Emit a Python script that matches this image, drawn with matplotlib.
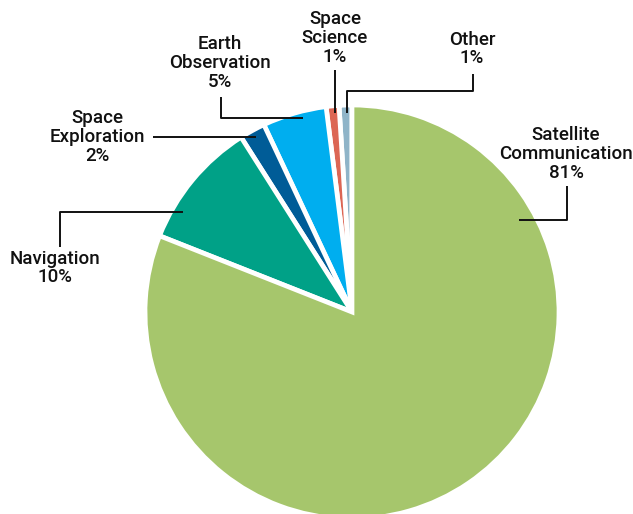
import matplotlib.pyplot as plt

# market share by segment, counter-clockwise from 12 o'clock
segments = ["Other", "Space\nScience", "Earth\nObservation", "Space\nExploration",
            "Navigation", "Satellite\nCommunication"]
shares = [1, 1, 5, 2, 10, 81]
colors = ["#8FB4C8", "#DC6654", "#00AEEF", "#005C97", "#00A187", "#A6C66C"]

W, H = 633, 514


def py(y):
    # convert a top-down pixel row into data y
    return H - y


fig = plt.figure(figsize=(W / 100, H / 100), dpi=100)
ax = fig.add_axes([0, 0, 1, 1])

ax.pie(
    shares,
    colors=colors,
    startangle=90,
    counterclock=True,
    center=(352, py(312)),
    radius=207,
    wedgeprops=dict(edgecolor="white", linewidth=3.4),
)

ax.set_xlim(0, W)
ax.set_ylim(0, H)
ax.set_aspect("equal")
ax.axis("off")

# label text: (x center, y center of block)
label_pos = {
    "Other": (472, 49),
    "Space\nScience": (335, 38),
    "Earth\nObservation": (220, 63),
    "Space\nExploration": (97, 137),
    "Navigation": (55, 268),
    "Satellite\nCommunication": (566, 154),
}

# leader lines drawn as polylines in pixel rows
leaders = {
    "Other": [(473, 74), (473, 91), (347, 91), (347, 113)],
    "Space\nScience": [(335, 70), (335, 113)],
    "Earth\nObservation": [(221, 97), (221, 118), (303, 118)],
    "Space\nExploration": [(153, 137), (256, 137)],
    "Navigation": [(60, 247), (60, 212), (183, 212)],
    "Satellite\nCommunication": [(567, 186), (567, 220), (519, 220)],
}

for name, pct in zip(segments, shares):
    x, y = label_pos[name]
    ax.text(x, py(y), f"{name}\n{pct}%", ha="center", va="center",
            fontsize=13.5, color="#111111", linespacing=1.05,
            family="Roboto", fontweight="medium")
    pts = leaders[name]
    ax.plot([p[0] for p in pts], [py(p[1]) for p in pts],
            color="#111111", lw=1.4, solid_capstyle="butt")

fig.savefig("out.png", dpi=100)
